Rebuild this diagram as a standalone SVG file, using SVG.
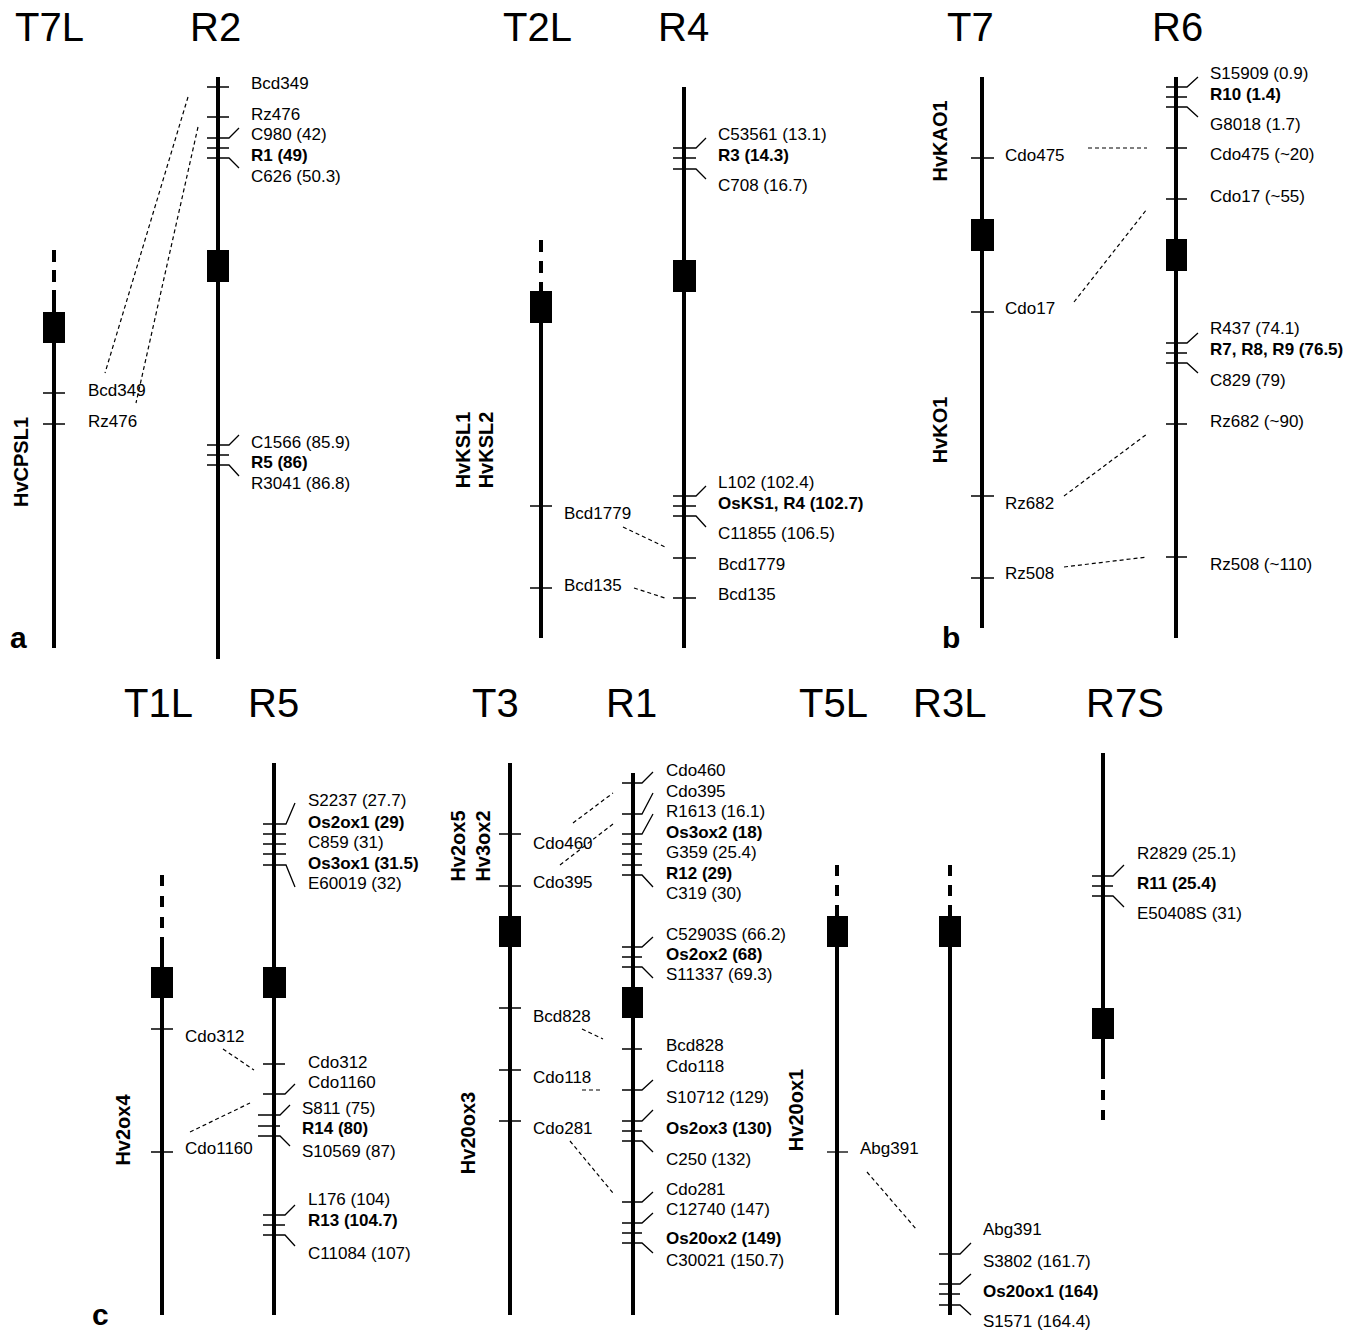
<svg xmlns="http://www.w3.org/2000/svg" width="1357" height="1332" viewBox="0 0 1357 1332">
<style>
text{font-family:"Liberation Sans",Arial,sans-serif;fill:#000}
.lb{font-size:17px}
.b{font-weight:bold}
.ttl{font-size:40px}
.gn{font-size:20px;font-weight:bold;text-anchor:middle}
.pl{font-size:30px;font-weight:bold}
.chr{stroke:#000;stroke-width:4;fill:none}
.dsh{stroke:#000;stroke-width:4;fill:none}
.tk{stroke:#000;stroke-width:1.3;fill:none}
.dl{stroke:#000;stroke-width:1.2;stroke-dasharray:4 3;fill:none}
</style>
<rect width="1357" height="1332" fill="#fff"/>

<text class="pl" x="10" y="648">a</text>
<text class="pl" x="942" y="648">b</text>
<text class="pl" x="92" y="1325">c</text>

<!-- Panel a -->
<g id="T7L">
<text class="ttl" x="15" y="41">T7L</text>
<path class="dsh" d="M54 250V290" stroke-dasharray="12 8"/>
<path class="chr" d="M54 290V648"/>
<rect x="43" y="312" width="22" height="31"/>
<path class="tk" d="M43 393H65M43 424H65"/>
<text class="lb" x="88" y="396">Bcd349</text>
<text class="lb" x="88" y="427">Rz476</text>
<text class="gn" transform="translate(28 462) rotate(-90)">HvCPSL1</text>
</g>
<g id="R2">
<text class="ttl" x="190" y="41">R2</text>
<path class="chr" d="M218 77V659"/>
<rect x="207" y="250" width="22" height="32"/>
<path class="tk" d="M207 87H229M207 117H229M207 138H229L239 128M207 148H229M207 158H229L239 168M207 445H229L239 435M207 455H229M207 465H229L239 476"/>
<text class="lb" x="251" y="89">Bcd349</text>
<text class="lb" x="251" y="120">Rz476</text>
<text class="lb" x="251" y="140">C980 (42)</text>
<text class="lb b" x="251" y="161">R1 (49)</text>
<text class="lb" x="251" y="182">C626 (50.3)</text>
<text class="lb" x="251" y="448">C1566 (85.9)</text>
<text class="lb b" x="251" y="468">R5 (86)</text>
<text class="lb" x="251" y="489">R3041 (86.8)</text>
</g>

<g id="T2L">
<text class="ttl" x="503" y="41">T2L</text>
<path class="dsh" d="M541 240V282" stroke-dasharray="12 9"/>
<path class="chr" d="M541 282V638"/>
<rect x="530" y="291" width="22" height="32"/>
<path class="tk" d="M530 506H552M530 588H552"/>
<text class="lb" x="564" y="519">Bcd1779</text>
<text class="lb" x="564" y="591">Bcd135</text>
<text class="gn" transform="translate(470 450) rotate(-90)">HvKSL1</text>
<text class="gn" transform="translate(493 450) rotate(-90)">HvKSL2</text>
</g>
<g id="R4">
<text class="ttl" x="658" y="41">R4</text>
<path class="chr" d="M684 87V648"/>
<rect x="673" y="260" width="23" height="32"/>
<path class="tk" d="M673 148H696L706 138M673 158H696M673 169H696L706 179M673 496H696L706 486M673 506H696M673 516H696L706 527M673 558H696M673 598H696"/>
<text class="lb" x="718" y="140">C53561 (13.1)</text>
<text class="lb b" x="718" y="161">R3 (14.3)</text>
<text class="lb" x="718" y="191">C708 (16.7)</text>
<text class="lb" x="718" y="488">L102 (102.4)</text>
<text class="lb b" x="718" y="509">OsKS1, R4 (102.7)</text>
<text class="lb" x="718" y="539">C11855 (106.5)</text>
<text class="lb" x="718" y="570">Bcd1779</text>
<text class="lb" x="718" y="600">Bcd135</text>
</g>

<g id="T7">
<text class="ttl" x="947" y="41">T7</text>
<path class="chr" d="M982 77V628"/>
<rect x="971" y="219" width="23" height="32"/>
<path class="tk" d="M971 158H994M971 312H994M971 496H994M971 578H994"/>
<text class="lb" x="1005" y="161">Cdo475</text>
<text class="lb" x="1005" y="314">Cdo17</text>
<text class="lb" x="1005" y="509">Rz682</text>
<text class="lb" x="1005" y="579">Rz508</text>
<text class="gn" transform="translate(947 141) rotate(-90)">HvKAO1</text>
<text class="gn" transform="translate(947 430) rotate(-90)">HvKO1</text>
</g>
<g id="R6">
<text class="ttl" x="1152" y="41">R6</text>
<path class="chr" d="M1176 77V638"/>
<rect x="1166" y="239" width="21" height="32"/>
<path class="tk" d="M1166 87H1187L1198 77M1166 97H1187M1166 107H1187L1198 117M1166 148H1187M1166 199H1187M1166 343H1187L1198 333M1166 353H1187M1166 363H1187L1198 373M1166 424H1187M1166 557H1187"/>
<text class="lb" x="1210" y="79">S15909 (0.9)</text>
<text class="lb b" x="1210" y="100">R10 (1.4)</text>
<text class="lb" x="1210" y="130">G8018 (1.7)</text>
<text class="lb" x="1210" y="160">Cdo475 (~20)</text>
<text class="lb" x="1210" y="202">Cdo17 (~55)</text>
<text class="lb" x="1210" y="334">R437 (74.1)</text>
<text class="lb b" x="1210" y="355">R7, R8, R9 (76.5)</text>
<text class="lb" x="1210" y="386">C829 (79)</text>
<text class="lb" x="1210" y="427">Rz682 (~90)</text>
<text class="lb" x="1210" y="570">Rz508 (~110)</text>
</g>

<!-- Panel c -->
<g id="T1L">
<text class="ttl" x="124" y="717">T1L</text>
<path class="dsh" d="M162 875V937" stroke-dasharray="11 10"/>
<path class="chr" d="M162 937V1315"/>
<rect x="151" y="967" width="22" height="31"/>
<path class="tk" d="M151 1029H173M151 1152H173"/>
<text class="lb" x="185" y="1042">Cdo312</text>
<text class="lb" x="185" y="1154">Cdo1160</text>
<text class="gn" transform="translate(130 1130) rotate(-90)">Hv2ox4</text>
</g>
<g id="R5">
<text class="ttl" x="248" y="717">R5</text>
<path class="chr" d="M274 763V1315"/>
<rect x="263" y="967" width="23" height="31"/>
<path class="tk" d="M263 824H286L295 803M263 834H286M263 844H286M263 854H286M263 865H286L295 887M263 1064H285M263 1094H285L295 1084M258 1115H280L290 1105M258 1126H280M258 1136H280L290 1146M263 1215H285L295 1205M263 1225H285M263 1235H285L295 1246"/>
<text class="lb" x="308" y="806">S2237 (27.7)</text>
<text class="lb b" x="308" y="828">Os2ox1 (29)</text>
<text class="lb" x="308" y="848">C859 (31)</text>
<text class="lb b" x="308" y="869">Os3ox1 (31.5)</text>
<text class="lb" x="308" y="889">E60019 (32)</text>
<text class="lb" x="308" y="1068">Cdo312</text>
<text class="lb" x="308" y="1088">Cdo1160</text>
<text class="lb" x="302" y="1114">S811 (75)</text>
<text class="lb b" x="302" y="1134">R14 (80)</text>
<text class="lb" x="302" y="1157">S10569 (87)</text>
<text class="lb" x="308" y="1205">L176 (104)</text>
<text class="lb b" x="308" y="1226">R13 (104.7)</text>
<text class="lb" x="308" y="1259">C11084 (107)</text>
</g>

<g id="T3">
<text class="ttl" x="472" y="717">T3</text>
<path class="chr" d="M510 763V1315"/>
<rect x="499" y="916" width="22" height="31"/>
<path class="tk" d="M499 834H521M499 886H521M499 1008H521M499 1070H521M499 1121H521"/>
<text class="lb" x="533" y="849">Cdo460</text>
<text class="lb" x="533" y="888">Cdo395</text>
<text class="lb" x="533" y="1022">Bcd828</text>
<text class="lb" x="533" y="1083">Cdo118</text>
<text class="lb" x="533" y="1134">Cdo281</text>
<text class="gn" transform="translate(465 846) rotate(-90)">Hv2ox5</text>
<text class="gn" transform="translate(490 846) rotate(-90)">Hv3ox2</text>
<text class="gn" transform="translate(475 1133) rotate(-90)">Hv20ox3</text>
</g>
<g id="R1">
<text class="ttl" x="606" y="717">R1</text>
<path class="chr" d="M633 773V1315"/>
<rect x="622" y="987" width="21" height="31"/>
<path class="tk" d="M622 783H642L653 772M622 814H642L653 793M622 834H642L653 814M622 844H642M622 854H642M622 865H642M622 875H642L653 887M622 947H642L653 937M622 957H642M622 967H642L653 978M622 1049H642M622 1090H642L653 1080M622 1121H642L653 1110M622 1131H642M622 1141H642L653 1152M622 1202H642L653 1192M622 1223H642L653 1213M622 1233H642M622 1243H642L653 1253"/>
<text class="lb" x="666" y="776">Cdo460</text>
<text class="lb" x="666" y="797">Cdo395</text>
<text class="lb" x="666" y="817">R1613 (16.1)</text>
<text class="lb b" x="666" y="838">Os3ox2 (18)</text>
<text class="lb" x="666" y="858">G359 (25.4)</text>
<text class="lb b" x="666" y="879">R12 (29)</text>
<text class="lb" x="666" y="899">C319 (30)</text>
<text class="lb" x="666" y="940">C52903S (66.2)</text>
<text class="lb b" x="666" y="960">Os2ox2 (68)</text>
<text class="lb" x="666" y="980">S11337 (69.3)</text>
<text class="lb" x="666" y="1051">Bcd828</text>
<text class="lb" x="666" y="1072">Cdo118</text>
<text class="lb" x="666" y="1103">S10712 (129)</text>
<text class="lb b" x="666" y="1134">Os2ox3 (130)</text>
<text class="lb" x="666" y="1165">C250 (132)</text>
<text class="lb" x="666" y="1195">Cdo281</text>
<text class="lb" x="666" y="1215">C12740 (147)</text>
<text class="lb b" x="666" y="1244">Os20ox2 (149)</text>
<text class="lb" x="666" y="1266">C30021 (150.7)</text>
</g>

<g id="T5L">
<text class="ttl" x="799" y="717">T5L</text>
<path class="dsh" d="M837 865V906" stroke-dasharray="11 9"/>
<path class="chr" d="M837 906V1315"/>
<rect x="827" y="916" width="21" height="31"/>
<path class="tk" d="M827 1152H848"/>
<text class="lb" x="860" y="1154">Abg391</text>
<text class="gn" transform="translate(803 1110) rotate(-90)">Hv20ox1</text>
</g>
<g id="R3L">
<text class="ttl" x="913" y="717">R3L</text>
<path class="dsh" d="M950 865V906" stroke-dasharray="11 9"/>
<path class="chr" d="M950 906V1315"/>
<rect x="939" y="916" width="22" height="31"/>
<path class="tk" d="M939 1254H960L971 1243M939 1284H960L971 1274M939 1294H960M939 1305H960L971 1315"/>
<text class="lb" x="983" y="1235">Abg391</text>
<text class="lb" x="983" y="1267">S3802 (161.7)</text>
<text class="lb b" x="983" y="1297">Os20ox1 (164)</text>
<text class="lb" x="983" y="1327">S1571 (164.4)</text>
</g>

<g id="R7S">
<text class="ttl" x="1086" y="717">R7S</text>
<path class="chr" d="M1103 753V1079"/>
<path class="dsh" d="M1103 1090V1120" stroke-dasharray="10 10"/>
<rect x="1092" y="1008" width="22" height="31"/>
<path class="tk" d="M1092 876H1113L1124 865M1092 886H1113M1092 896H1113L1124 907"/>
<text class="lb" x="1137" y="859">R2829 (25.1)</text>
<text class="lb b" x="1137" y="889">R11 (25.4)</text>
<text class="lb" x="1137" y="919">E50408S (31)</text>
</g>

<g id="connectors">
<path class="dl" d="M188 97L105 373"/>
<path class="dl" d="M198 127L136 403"/>
<path class="dl" d="M623 527L665 547"/>
<path class="dl" d="M634 588L665 598"/>
<path class="dl" d="M1088 148L1147 148"/>
<path class="dl" d="M1074 302L1147 209"/>
<path class="dl" d="M1064 496L1147 434"/>
<path class="dl" d="M1064 567L1147 557"/>
<path class="dl" d="M223 1049L254 1070"/>
<path class="dl" d="M190 1132L250 1103"/>
<path class="dl" d="M573 823L613 793"/>
<path class="dl" d="M560 865L613 824"/>
<path class="dl" d="M582 1029L603 1039"/>
<path class="dl" d="M582 1090L603 1090"/>
<path class="dl" d="M570 1141L613 1193"/>
<path class="dl" d="M867 1172L917 1230"/>
</g>
</svg>
